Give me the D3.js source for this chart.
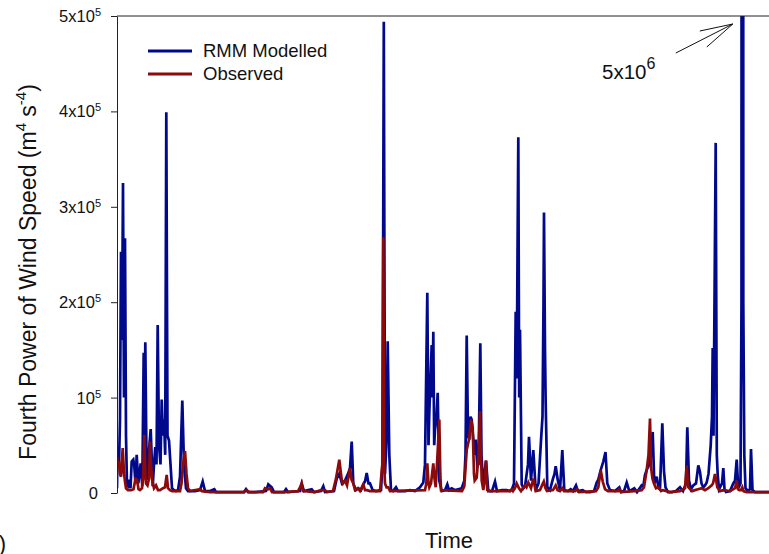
<!DOCTYPE html>
<html>
<head>
<meta charset="utf-8">
<script src="https://cdn.jsdelivr.net/npm/d3@7"></script>
<style>
  html, body { margin: 0; padding: 0; background: #fff; }
  svg { display: block; font-family: Arial, "Liberation Sans", sans-serif; }
</style>
</head>
<body>
<svg id="chart" width="769" height="554"></svg>
<script>
// ---- DATA (values in 10^3 m^4 s^-4, time in days from start) ----
const modelDays = [0,0.5,2,3,4,5,6,7,8,9,10,11,12.3,13.5,14.7,16.3,17.3,18.5,19.7,21.3,23.7,25.3,26.7,27.5,28.3,29.7,31,32,33.7,35.7,37,38.3,39.5,40.7,42,43.5,44.7,46,47,48.2,49.3,50.5,52,53.5,55,57,59,61,63,65.3,67,69,71,78,83,85.7,88,93,97.3,99,113,127,129,131,138,149,151.3,154.7,157,167,169,171,183,184.7,187,194.7,197,204,206.3,208,217,219.7,222.3,225,228,231,233,234.7,236.3,239,241.3,244,246.3,248,249.7,251.5,253,255.7,259,264,265.5,266.8,268,269.7,270.7,272.3,274,276,279,281,288,293,298,303,306.3,308,310.3,311.5,312.3,313.5,314.7,315.5,316.3,317.2,318,319.5,320.7,322.3,324.7,328,330.3,332,334.7,338,341.3,344.7,347.3,348.5,349.7,351,352.3,353.5,354.7,356.3,357.5,358.7,360.3,361.5,363.3,364.5,366,367.5,369,371.3,375,378,380,385,389.7,393,395,397,398.7,399.7,401.3,402.2,403,404.7,406.5,408,409.7,411,412,414,416.3,418.7,421.5,424,425.5,426.5,427,428,428.7,430.3,433,435.7,437.5,438.7,440.7,443,445.3,447.3,451,453.7,456,459,461,465.7,469,473,477,479.7,481.3,483.7,486.3,488.5,490.3,493,498,502.3,504,507,509.7,512.3,517.3,520,524.7,526.3,528,530,532.3,534,535.7,537.3,539.7,541.5,543,545.3,547,548.5,551,555,559,563,566,569,570.3,572,574,576.3,579,581.3,583,584.5,586.3,588,589.7,591.5,593.7,595,595.7,596.5,598.7,599.8,600.7,602,603,605,606.3,607.5,609,613,616.3,618,619.7,621.3,623.5,624.5,625.3,626.3,627.3,628.5,631,633,634,635.5,638,652,673];
const modelValues = [5,45,30,77,253,160,325,100,267,60,8,7,14,5,33,35,28,10,40,10,31,7,147,60,158,14,20,45,67,7,30,48,30,176,50,30,98,60,77,40,399,60,55,30,5,3,2,3,17,97,30,5,2,2,3,12,2,2,4,1,1,1,4,1,1,2,9,6,1,1,4,1,2,10,2,4,1,2,7,1,2,15,20,10,13,20,26,54,10,3,5,3,9,12,21,10,10,3,2,3,30,494,20,60,159,40,3,2,6,2,2,3,2,6,11,30,210,50,84,120,155,100,169,50,66,80,105,13,2,3,9,3,5,3,4,5,13,40,165,60,56,80,77,56,40,56,28,30,157,40,10,20,34,2,2,12,2,3,3,2,4,10,190,120,373,100,171,9,5,7,20,30,59,13,45,3,10,55,80,200,294,150,94,6,3,14,20,28,14,3,45,3,2,4,2,8,2,3,1,1,2,11,14,24,33,43,10,3,2,6,1,2,11,2,5,1,8,7,19,25,30,40,64,10,17,5,4,73,23,6,1,1,2,6,2,10,69,13,4,8,10,29,22,10,6,8,11,20,50,80,152,60,367,40,19,4,6,10,26,4,1,2,10,13,35,5,10,200,5000,200,40,5,2,4,46,3,1,1,1];

const obsDays = [0,1,2,3,4,5.7,7,8,9,11,14,16.5,18.5,20,21.5,23,25,26.3,27.3,28.5,29,30.5,32,33,34,35,37,39,41,43,46,48,49.7,51,53,55,63,64.5,66,68,69.5,71,73,83,85,93,113,127,129.7,132,146,148,151,153,155,168,181,183,184.7,186,198,204,208,210,216,219,222.3,224.7,226,228,230,233,234.5,236.3,238,240.7,243,246.3,248,250,253,263,265.3,266.3,267.2,268,269.5,271.3,273,308,309.3,310.3,311.5,312.3,314,316.3,317.5,318.7,320.5,321.5,322.3,323.3,324,345,347.3,349.7,352,354,355.7,357,357.7,359.7,361.5,363,364.7,366.3,368,369,370.3,373,393,394.7,396,398,399.7,402,404,408,409.5,411.3,414,416.3,418.7,423,425,426.8,428.5,430,436,438.7,440.5,443,445.3,447,458,460,462,479,481.3,483.7,485.7,488,491,501,502.3,504,517,524.7,527,529.7,531.5,533,534,535.5,537,539,541.3,544,546,553,563,568,569.7,571.3,575,578,581,584.7,588,591.3,594.7,596,598,600.3,603,606.3,613,618,619.7,621,622.3,624,625.3,626.5,629.7,652,673];
const obsValues = [38,30,31,20,17,47,21,12,5,3,3,4,15,14,4,3,5,20,61,15,10,8,15,54,30,15,5,8,3,3,5,6,19,5,3,2,2,10,30,44,20,5,2,4,2,1,1,1,3,1,1,5,4,5,1,1,2,6,10,2,1,3,3,1,2,15,35,14,10,13,8,26,14,10,3,5,2,9,3,3,2,2,30,268,30,10,6,6,2,3,10,31,10,6,10,31,15,6,40,60,77,20,3,2,7,45,56,77,68,20,13,16,40,86,13,3,15,34,3,2,2,4,2,5,10,5,2,8,6,11,5,15,2,3,8,12,5,2,3,8,3,2,5,2,2,4,1,2,6,24,12,4,2,2,4,1,2,3,6,24,40,78,27,15,10,5,6,2,3,1,2,5,29,6,2,3,4,5,3,5,8,10,20,6,2,3,2,5,13,4,3,3,6,2,1,1,1];

const yTicks = [0, 100, 200, 300, 400, 500];
const yTickMantissa = ["0", "", "2x", "3x", "4x", "5x"];
const seriesNames = ["RMM Modelled", "Observed"];
const peakLabel = {base: "5x10", exp: "6"};

// ---- LAYOUT ----
const svg = d3.select("#chart");
const mLeft = 117, mRight = 769, mTop = 16, mBottom = 493;
const blue = "#00088c", red = "#8c0a0a";

const x = d3.scaleLinear().domain([0, 652]).range([mLeft, mRight]);
const y = d3.scaleLinear().domain([0, 500]).range([mBottom, mTop]);

svg.append("defs").append("clipPath").attr("id", "clip")
  .append("rect").attr("x", mLeft).attr("y", mTop).attr("width", mRight - mLeft + 5).attr("height", mBottom - mTop + 6);

const line = d3.line().x(d => x(d[0])).y(d => y(d[1]));

const plot = svg.append("g").attr("clip-path", "url(#clip)");
plot.append("path")
  .datum(d3.zip(modelDays, modelValues))
  .attr("d", line).attr("fill", "none").attr("stroke", blue).attr("stroke-width", 2.7);
plot.append("path")
  .datum(d3.zip(obsDays, obsValues))
  .attr("d", line).attr("fill", "none").attr("stroke", red).attr("stroke-width", 2.7);

// top frame line
svg.append("line").attr("x1", mLeft).attr("x2", mRight).attr("y1", y(500)).attr("y2", y(500))
  .attr("stroke", "#222").attr("stroke-width", 1);

// y axis
const yAxis = svg.append("g").attr("transform", `translate(${mLeft},0)`)
  .call(d3.axisLeft(y).tickValues(yTicks).tickSize(6).tickSizeOuter(0).tickFormat(() => ""));
yAxis.select(".domain").attr("stroke", "#222");
yAxis.selectAll(".tick line").attr("stroke", "#222");

yTicks.forEach((v, i) => {
  const t = svg.append("text")
    .attr("x", 101).attr("y", y(v) + 6)
    .attr("text-anchor", "end").attr("font-size", 16.5).attr("fill", "#111");
  if (v === 0) {
    t.attr("x", 98).text("0");
  } else {
    t.append("tspan").text(yTickMantissa[i] + "10");
    t.append("tspan").attr("font-size", 11).attr("dy", -6).text("5");
  }
});

// y label
const yl = svg.append("text")
  .attr("transform", `translate(36,${272}) rotate(-90)`)
  .attr("text-anchor", "middle").attr("font-size", 23).attr("fill", "#111");
yl.append("tspan").text("Fourth Power of Wind Speed (m");
yl.append("tspan").attr("font-size", 15).attr("dy", -10).text("4");
yl.append("tspan").attr("dy", 10).text(" s");
yl.append("tspan").attr("font-size", 15).attr("dy", -10).text("-4");
yl.append("tspan").attr("dy", 10).text(")");

// x label
svg.append("text").attr("x", 449).attr("y", 548).attr("text-anchor", "middle")
  .attr("font-size", 22).attr("fill", "#111").text("Time");

// panel label (cut off at left edge, as in the source figure)
svg.append("text").attr("x", 6).attr("y", 551).attr("text-anchor", "end")
  .attr("font-size", 22).attr("fill", "#111").text("(b)");

// legend
const legend = svg.append("g");
[[blue, 0], [red, 1]].forEach(([c, i]) => {
  const ly = 51 + i * 23;
  legend.append("line").attr("x1", 148).attr("x2", 192).attr("y1", ly).attr("y2", ly)
    .attr("stroke", c).attr("stroke-width", 3);
  legend.append("text").attr("x", 203).attr("y", ly + 6).attr("font-size", 18.5)
    .attr("fill", "#111").text(seriesNames[i]);
});

// annotation for off-scale peak
const peakIdx = modelValues.indexOf(d3.max(modelValues));
const px = x(modelDays[peakIdx]), py = y(500);
const tipX = px - 9.5, tipY = py + 8;
const ann = svg.append("g").attr("stroke", "#111").attr("stroke-width", 1).attr("fill", "none");
ann.append("line").attr("x1", tipX - 57).attr("y1", tipY + 29).attr("x2", tipX).attr("y2", tipY);
ann.append("line").attr("x1", tipX - 33).attr("y1", tipY + 7).attr("x2", tipX).attr("y2", tipY);
ann.append("line").attr("x1", tipX - 26).attr("y1", tipY + 23).attr("x2", tipX).attr("y2", tipY);
const at = svg.append("text").attr("x", 602).attr("y", 79).attr("font-size", 20.5).attr("fill", "#111");
at.append("tspan").text(peakLabel.base);
at.append("tspan").attr("font-size", 16).attr("dy", -10).text(peakLabel.exp);
</script>
</body>
</html>
